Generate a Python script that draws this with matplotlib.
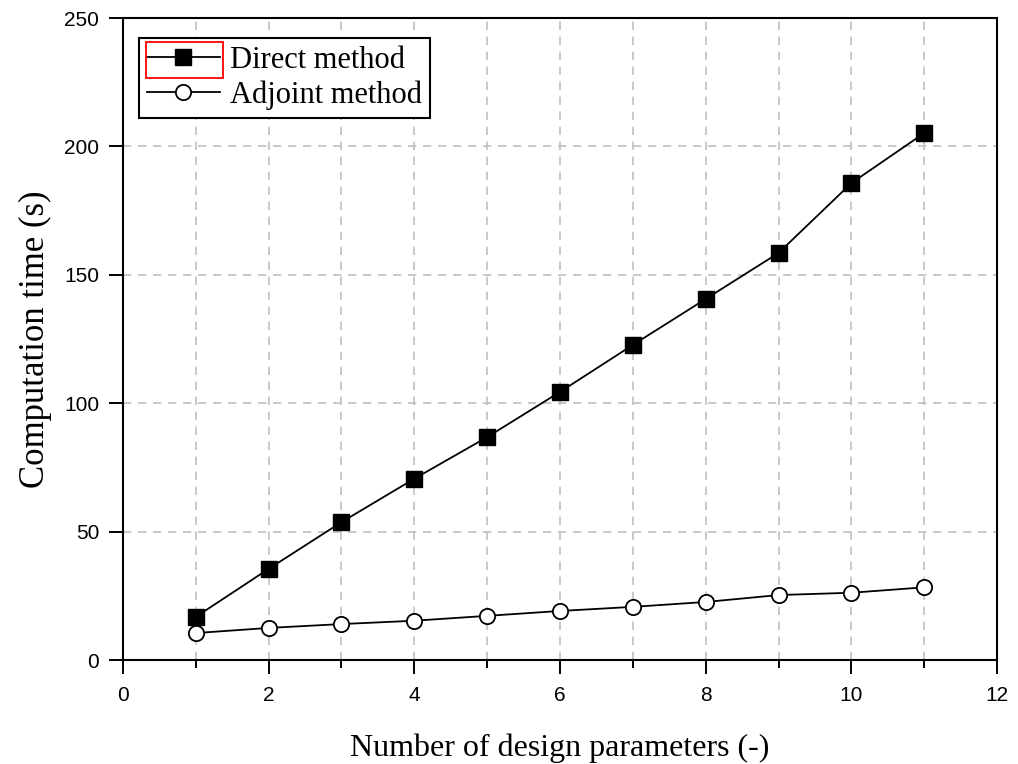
import numpy as np
import matplotlib.pyplot as plt
from matplotlib.patches import Rectangle
from matplotlib.ticker import MultipleLocator

n_params = [1, 2, 3, 4, 5, 6, 7, 8, 9, 10, 11]
direct_time = [16.8, 35.5, 53.7, 70.6, 86.8, 104.4, 122.7, 140.6, 158.5, 185.7, 205.2]
adjoint_time = [10.5, 12.5, 14.0, 15.3, 17.2, 19.1, 20.7, 22.6, 25.3, 26.2, 28.3]

fig = plt.figure(figsize=(10.18, 7.64), dpi=100)
ax = fig.add_axes([0.1208, 0.1361, 0.8586, 0.8403])

ax.plot(n_params, direct_time, '-', color='black', lw=1.3, marker='s', markersize=11,
        markerfacecolor='black', markeredgecolor='black', label='Direct method', zorder=3)
ax.plot(n_params, adjoint_time, '-', color='black', lw=1.3, marker='o', markersize=11,
        markerfacecolor='white', markeredgecolor='black', markeredgewidth=1.3,
        label='Adjoint method', zorder=3)

ax.set_xlim(0, 12)
ax.set_ylim(0, 250)
ax.xaxis.set_major_locator(MultipleLocator(2))
ax.xaxis.set_minor_locator(MultipleLocator(1))
ax.yaxis.set_major_locator(MultipleLocator(50))

ax.grid(True, which='major', axis='y', color='#c0c0c0', ls=(0, (5, 4)), lw=1.2)
ax.grid(True, which='both', axis='x', color='#c0c0c0', ls=(0, (5, 4)), lw=1.2)

ax.tick_params(axis='both', which='major', direction='out', length=10, width=1.4,
               labelsize=15)
ax.tick_params(axis='x', which='major', pad=9)
ax.tick_params(axis='y', which='major', pad=7)
ax.tick_params(axis='x', which='minor', direction='out', length=6, width=1.4)
for lab in ax.get_xticklabels() + ax.get_yticklabels():
    lab.set_family('Liberation Sans')
for sp in ax.spines.values():
    sp.set_linewidth(1.5)

ax.set_xlabel('Number of design parameters (-)', family='Liberation Serif', fontsize=23, labelpad=20)
ax.set_ylabel('Computation time (s)', family='Liberation Serif', fontsize=25, labelpad=9)

leg = ax.legend(loc='upper left', bbox_to_anchor=(0.0183, 0.969),
                prop={'family': 'Liberation Serif', 'size': 22},
                frameon=True, fancybox=False, edgecolor='black', framealpha=1,
                handlelength=2.4, handletextpad=0.33, borderpad=0.25, labelspacing=0.2,
                borderaxespad=0)
leg.get_frame().set_linewidth(1.5)

# red selection frame around the first legend entry's symbol
fig.canvas.draw()
fb = leg.get_frame().get_window_extent(fig.canvas.get_renderer())
x0, y0 = fig.transFigure.inverted().transform((fb.x0 + 7, fb.y1 - 40))
x1, y1 = fig.transFigure.inverted().transform((fb.x0 + 84, fb.y1 - 4))
fig.add_artist(Rectangle((x0, y0), x1 - x0, y1 - y0, transform=fig.transFigure,
                         fill=False, edgecolor='red', lw=1.3, zorder=10))

fig.savefig('out.png', dpi=100)
